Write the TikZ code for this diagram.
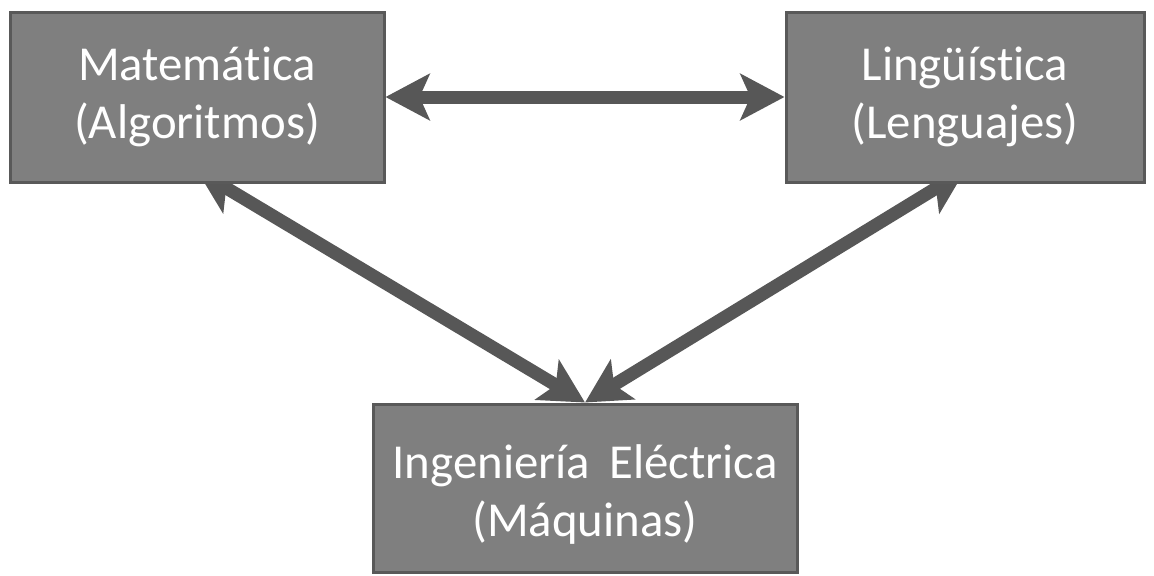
\documentclass[tikz,border=0pt]{standalone}
\usepackage{fontspec}
\setmainfont{Carlito}[Ligatures=NoCommon]
\usetikzlibrary{arrows.meta,backgrounds}
\definecolor{boxfill}{HTML}{7F7F7F}
\definecolor{boxline}{HTML}{595959}
\definecolor{linkcol}{HTML}{575757}
\begin{document}
\begin{tikzpicture}[x=0.5pt,y=-0.5pt,
  boxtext/.style={text=white, inner sep=0pt, align=center,
    font=\fontsize{24.4}{29}\selectfont},
  box/.style={boxtext, draw=boxline, line width=1.5pt, fill=boxfill},
  link/.style={draw=linkcol, line width=6.5pt,
    {Stealth[length=22pt,width=23pt,inset=5pt]}-{Stealth[length=22pt,width=23pt,inset=5pt]}}]
  \useasboundingbox (0,0) rectangle (1154,575);
  % the three fields
  \node[box, minimum width=187pt, minimum height=85pt] (mat) at (197,97)
    {Matemática\\(Algoritmos)};
  \node[box, minimum width=179pt, minimum height=85pt] (lin) at (965,97)
    {Lingüística\\(Lenguajes)};
  \node[box, minimum width=212pt, minimum height=84pt] (ing) at (585,488) {};
  \node[boxtext] (ingtext) at ([yshift=-3pt]ing.center)
    {Ingeniería\, Eléctrica\\(Máquinas)};
  % two-way links, kept behind the boxes
  \begin{pgfonlayer}{background}
    \draw[link] (mat.east) -- (lin.west);
    \draw[link] ([yshift=6.5pt]mat.south) -- (ing.north);
    \draw[link] ([yshift=6.5pt]lin.south) -- (ing.north);
  \end{pgfonlayer}
\end{tikzpicture}
\end{document}
